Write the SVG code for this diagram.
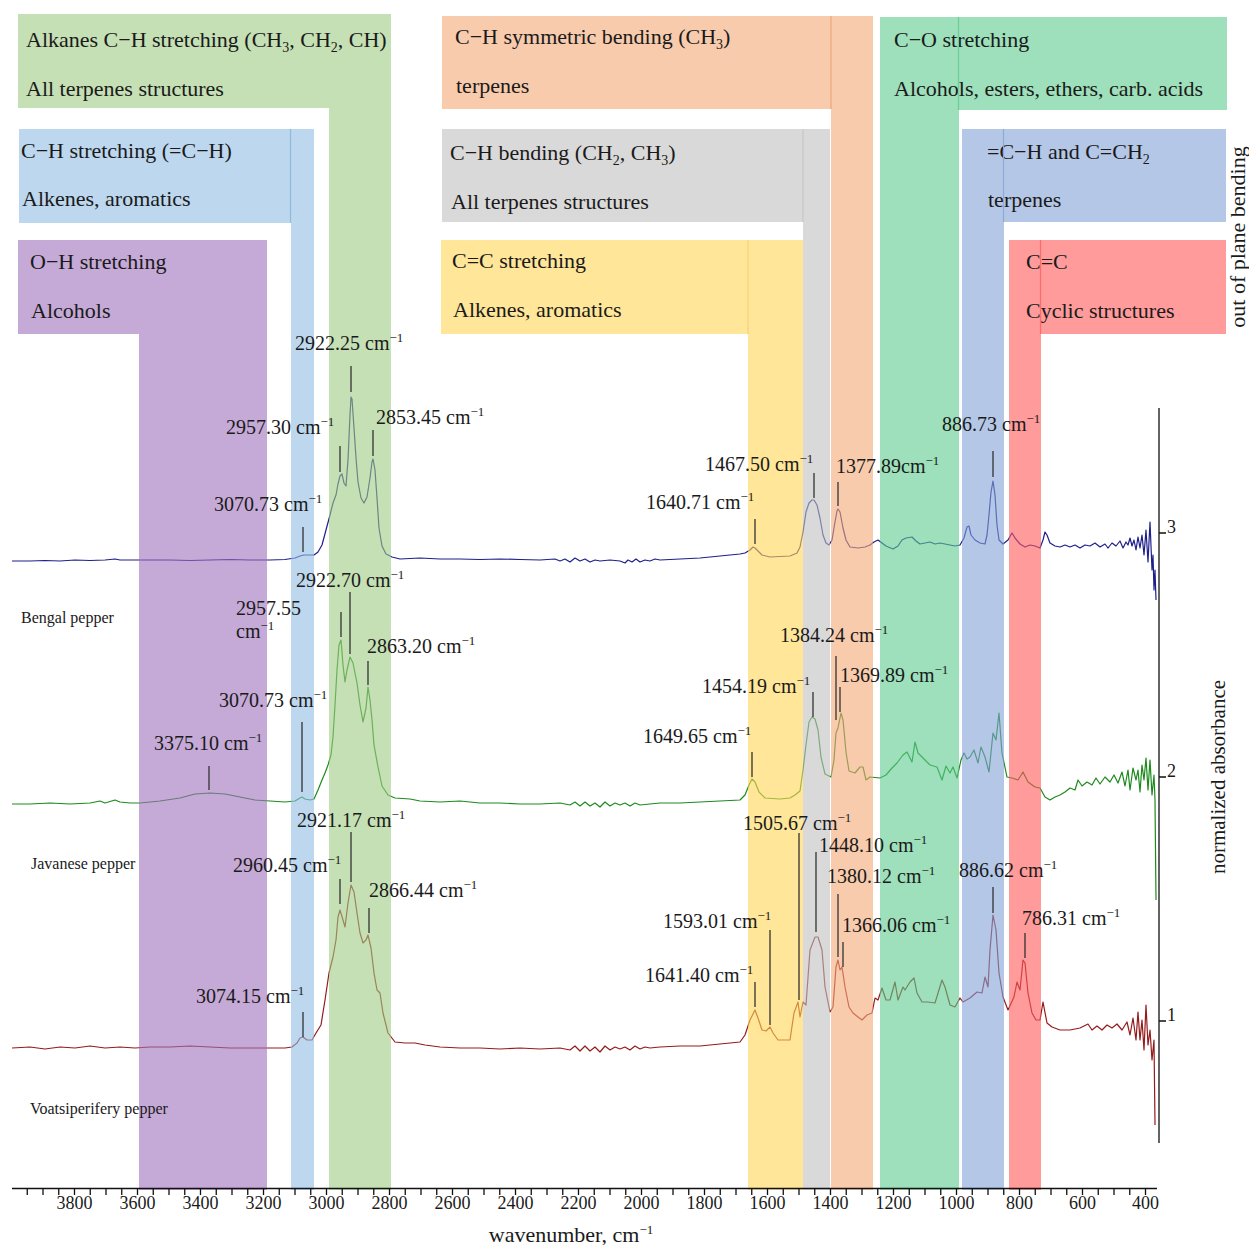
<svg xmlns="http://www.w3.org/2000/svg" width="1249" height="1245" viewBox="0 0 1249 1245">
<style>
text{font-family:"Liberation Serif","DejaVu Serif",serif;fill:#1a1a1a}
.bx{font-size:22px}
.lb{font-size:20px}
.sp{font-size:13px}
.sb{font-size:14px}
.tk{font-size:18px}
.sm{font-size:16px}
.band{opacity:0.6;stroke:none}
.edge{stroke-width:1.2;fill:none}
.mk{stroke:#333;stroke-width:1.3;fill:none}
.spec{fill:none;stroke-width:1.2;stroke-linejoin:round}
.ax{stroke:#111;stroke-width:1.3;fill:none}
</style>
<rect width="1249" height="1245" fill="#fff"/>
<g id="connectors">
<path class="spec" stroke="#1f1f8c" d="M12,561 L30,561 L45,560.5 L60,561 L75,560 L90,560.5 L105,560 L115,559 L120,560 L135,560 L150,560 L170,560 L190,560.5 L210,560 L230,559.5 L250,560 L270,560 L285,559.5 L295,558 L300,556 L304,555 L309,555 L314,555 L318,552 L322,545 L326,530 L330,515 L333,503 L336,495 L338,484 L340,476 L342,474 L344,483 L346,486 L348,460 L350,415 L351,397 L352,399 L354,428 L356,458 L358,482 L361,498 L364,503 L367,497 L370,478 L372,462 L373,459 L375,470 L377,498 L379,528 L382,546 L386,554 L392,557 L400,559 L420,558 L440,559 L460,559 L480,559.5 L500,559 L520,559.5 L540,560 L555,559 L560,561 L565,559 L570,562 L575,558 L580,561 L585,559 L590,562 L595,560 L600,561 L610,560 L620,561 L625,563 L628,560 L632,562 L636,559 L640,562 L645,560 L650,561 L655,559 L660,560 L680,559 L700,558 L720,556 L740,554 L745,553 L750,550 L753,547 L755,548 L758,551 L762,555 L770,557 L790,556 L797,553 L800,547 L803,532 L806,512 L809,503 L812,500 L814,500 L817,505 L820,518 L823,535 L826,543 L829,545 L832,540 L835,522 L837,511 L838,509 L840,512 L843,528 L846,540 L850,547 L858,548 L865,547 L870,545 L874,542 L878,540 L882,543 L886,546 L893,549 L898,546 L902,540 L906,538 L912,537 L916,541 L920,544 L925,543 L930,542 L935,544 L940,543 L945,544 L950,545 L955,546 L960,545 L964,538 L967,527 L969,526 L971,535 L975,540 L980,543 L985,544 L987,535 L989,515 L991,492 L993,481 L995,495 L997,525 L999,540 L1003,544 L1008,540 L1012,533 L1015,538 L1020,544 L1025,547 L1030,545 L1035,546 L1040,548 L1043,540 L1045,532 L1047,535 L1050,543 L1055,546 L1060,547 L1065,545 L1070,547 L1075,545 L1080,548 L1085,545 L1090,546 L1095,543 L1100,547 L1105,544 L1108,548 L1112,543 L1116,546 L1120,541 L1123,548 L1126,542 L1128,545 L1130,538 L1132,546 L1134,540 L1136,550 L1138,537 L1140,548 L1142,535 L1144,555 L1146,530 L1148,562 L1150,522 L1152,570 L1153,555 L1154,590 L1155,570 L1156,600"/>
<path class="spec" stroke="#1e8a1e" d="M12,804 L30,804 L50,803 L70,804 L90,803 L100,801 L105,803 L115,800 L120,802 L130,803 L140,803 L160,801 L180,798 L195,794 L210,793 L225,794 L240,797 L255,800 L270,801 L285,802 L295,801 L300,798 L302,797 L305,799 L310,800 L314,799 L318,790 L322,780 L325,773 L328,765 L331,755 L333,737 L335,705 L337,670 L339,645 L341,640 L343,665 L345,682 L347,670 L350,657 L353,663 L357,683 L360,705 L363,722 L366,708 L368,687 L370,700 L372,720 L374,745 L378,767 L382,786 L388,795 L395,798 L410,799 L420,801 L440,802 L460,801 L480,803 L500,803 L520,804 L540,804 L560,803 L570,805 L575,802 L580,806 L585,802 L590,806 L595,803 L600,807 L605,802 L610,806 L615,803 L620,805 L625,803 L630,806 L635,803 L640,805 L650,804 L660,803 L680,803 L700,802 L720,801 L740,800 L745,795 L749,785 L752,779 L755,782 L759,792 L765,798 L780,799 L790,798 L795,795 L800,791 L803,770 L806,745 L809,722 L812,717 L815,719 L818,730 L821,757 L825,774 L831,777 L834,760 L836,733 L838,728 L840,718 L841,713 L843,720 L846,752 L849,771 L855,773 L860,767 L863,767 L866,780 L870,777 L880,778 L886,775 L892,768 L897,763 L903,755 L907,752 L912,762 L915,742 L918,753 L923,758 L930,765 L937,767 L942,780 L946,766 L950,773 L953,767 L957,778 L961,760 L964,753 L967,759 L970,757 L974,750 L978,763 L981,747 L985,757 L989,772 L993,733 L996,740 L999,713 L1002,753 L1007,777 L1012,778 L1018,780 L1023,772 L1028,782 L1035,787 L1040,788 L1045,797 L1050,800 L1055,797 L1060,795 L1065,792 L1070,788 L1075,790 L1078,780 L1082,786 L1087,782 L1092,785 L1096,778 L1100,784 L1105,777 L1110,782 L1114,775 L1118,783 L1122,772 L1125,786 L1128,770 L1130,790 L1133,768 L1136,780 L1138,770 L1140,792 L1142,765 L1144,780 L1146,758 L1148,790 L1150,760 L1152,795 L1154,775 L1155,800 L1156,900"/>
<path class="spec" stroke="#931c1c" d="M12,1048 L30,1047 L45,1049 L60,1047 L75,1048 L90,1046 L105,1048 L120,1047 L135,1048 L150,1047 L170,1047 L190,1046 L210,1047 L230,1048 L250,1048 L270,1048 L285,1048 L292,1047 L297,1043 L300,1038 L303,1037 L307,1040 L312,1040 L316,1033 L321,1025 L325,1000 L329,973 L333,957 L336,940 L338,917 L340,910 L343,920 L345,927 L348,903 L351,885 L354,892 L357,913 L360,933 L363,943 L366,940 L368,935 L371,948 L374,973 L377,990 L380,993 L383,1013 L388,1033 L395,1042 L405,1043 L415,1043 L425,1045 L440,1047 L460,1048 L480,1048 L500,1049 L520,1048 L540,1049 L560,1048 L570,1050 L575,1046 L580,1051 L585,1046 L590,1051 L595,1047 L600,1052 L605,1046 L610,1050 L615,1047 L620,1049 L625,1047 L630,1050 L635,1046 L640,1049 L645,1047 L650,1048 L660,1047 L680,1046 L700,1046 L720,1044 L740,1042 L745,1035 L750,1020 L755,1010 L758,1018 L762,1030 L766,1031 L770,1027 L773,1033 L778,1040 L790,1040 L794,1013 L798,1002 L800,1017 L803,1002 L806,1005 L810,950 L815,937 L818,937 L822,950 L825,987 L830,1012 L833,1007 L836,967 L838,960 L840,970 L842,967 L845,987 L849,1007 L853,1013 L858,1017 L862,1020 L867,1015 L872,1013 L875,998 L878,1000 L882,988 L886,1000 L890,1000 L895,982 L898,1000 L903,987 L905,990 L910,982 L914,978 L917,993 L922,1002 L928,1002 L935,1003 L942,980 L945,987 L950,1005 L955,1007 L960,998 L963,1002 L970,998 L977,992 L982,993 L985,977 L988,987 L990,950 L993,915 L996,930 L999,973 L1003,997 L1008,1010 L1014,997 L1017,982 L1020,990 L1023,960 L1025,963 L1028,993 L1032,1013 L1036,1020 L1040,1020 L1043,1002 L1047,1023 L1052,1027 L1060,1030 L1070,1030 L1080,1028 L1088,1024 L1092,1030 L1097,1026 L1102,1030 L1107,1025 L1112,1028 L1117,1024 L1122,1030 L1127,1022 L1130,1035 L1133,1018 L1136,1040 L1138,1012 L1140,1040 L1142,1020 L1144,1050 L1146,1005 L1148,1045 L1150,1030 L1152,1060 L1154,1040 L1155,1125"/>
</g>
<g id="band-oh">
<path class="band" fill="#9e70bb" d="M18,240 H267 V1190 H139 V334 H18 Z"/>
<text class="bx" x="30" y="269">O−H stretching</text>
<text class="bx" x="31" y="318">Alcohols</text>
</g>
<g id="band-ch-alkene">
<path class="band" fill="#91bce3" d="M19,129 H314 V1190 H291 V223 H19 Z"/>
<text class="bx" x="21" y="158">C−H stretching (=C−H)</text>
<text class="bx" x="22" y="206">Alkenes, aromatics</text>
<line class="edge" stroke="#8fbbe3" x1="290.5" y1="129" x2="290.5" y2="223"/>
</g>
<g id="band-alkanes">
<path class="band" fill="#9ecb82" d="M18,14 H391 V1190 H329 V108 H18 Z"/>
<text class="bx" x="26" y="47">Alkanes C−H stretching (CH<tspan class="sb" dy="5">3</tspan><tspan dy="-5">, CH</tspan><tspan class="sb" dy="5">2</tspan><tspan dy="-5">, CH)</tspan></text>
<text class="bx" x="26" y="96">All terpenes structures</text>
</g>
<g id="band-ch-sym">
<path class="band" fill="#f3a876" d="M442,16 H873 V1190 H831 V109 H442 Z"/>
<text class="bx" x="455" y="44">C−H symmetric bending (CH<tspan class="sb" dy="5">3</tspan><tspan dy="-5">)</tspan></text>
<text class="bx" x="456" y="93">terpenes</text>
<line class="edge" stroke="#eca77c" x1="831" y1="16" x2="831" y2="109"/>
</g>
<g id="band-ch-bend">
<path class="band" fill="#c0c0c0" d="M442,129 H830 V1190 H803 V222 H442 Z"/>
<text class="bx" x="450" y="160">C−H bending (CH<tspan class="sb" dy="5">2</tspan><tspan dy="-5">, CH</tspan><tspan class="sb" dy="5">3</tspan><tspan dy="-5">)</tspan></text>
<text class="bx" x="451" y="209">All terpenes structures</text>
<line class="edge" stroke="#c6c6c6" x1="803" y1="129" x2="803" y2="222"/>
</g>
<g id="band-cc">
<path class="band" fill="#ffd555" d="M441,240 H803 V1190 H748 V334 H441 Z"/>
<text class="bx" x="452" y="268">C=C stretching</text>
<text class="bx" x="453" y="317">Alkenes, aromatics</text>
<line class="edge" stroke="#f2d17a" x1="748" y1="240" x2="748" y2="334"/>
</g>
<g id="band-co">
<path class="band" fill="#5ccb8e" d="M880,17 H1227 V110 H959 V1190 H880 Z"/>
<text class="bx" x="894" y="47">C−O stretching</text>
<text class="bx" x="894" y="96">Alcohols, esters, ethers, carb. acids</text>
<line class="edge" stroke="#6ccd98" x1="958.5" y1="17" x2="958.5" y2="110"/>
</g>
<g id="band-ch2">
<path class="band" fill="#82a2d7" d="M962,129 H1226 V222 H1004 V1190 H962 Z"/>
<text class="bx" x="987" y="159">=C−H and C=CH<tspan class="sb" dy="5">2</tspan></text>
<text class="bx" x="988" y="207">terpenes</text>
<line class="edge" stroke="#8ea8d8" x1="1003.5" y1="129" x2="1003.5" y2="222"/>
</g>
<g id="band-cyclic">
<path class="band" fill="#ff5858" d="M1009,240 H1226 V334 H1041 V1190 H1009 Z"/>
<text class="bx" x="1026" y="269">C=C</text>
<text class="bx" x="1026" y="318">Cyclic structures</text>
<line class="edge" stroke="#ff6a6a" x1="1040.5" y1="240" x2="1040.5" y2="334"/>
</g>
<g id="peak-markers">
<path class="mk" d="M351,366V392 M340,446V472 M373,430V456 M303,527V552 M755,519V544 M814,473V498 M838,482V506 M993,451V477 M350,592V654 M341,612V637 M368,661V685 M302,722V792 M209,766V790 M752,752V777 M813,692V717 M836,656V720 M840,687V712 M351,832V882 M340,879V904 M369,908V933 M303,1012V1037 M799,833V1000 M816,852V932 M838,894V957 M843,942V967 M770,930V1025 M755,982V1007 M993,887V913 M1025,933V958"/>
</g>
<g id="peak-labels">
<text class="lb" x="295" y="350">2922.25 cm<tspan class="sp" dy="-8">−1</tspan></text>
<text class="lb" x="226" y="434">2957.30 cm<tspan class="sp" dy="-8">−1</tspan></text>
<text class="lb" x="376" y="424">2853.45 cm<tspan class="sp" dy="-8">−1</tspan></text>
<text class="lb" x="214" y="511">3070.73 cm<tspan class="sp" dy="-8">−1</tspan></text>
<text class="lb" x="646" y="509">1640.71 cm<tspan class="sp" dy="-8">−1</tspan></text>
<text class="lb" x="705" y="471">1467.50 cm<tspan class="sp" dy="-8">−1</tspan></text>
<text class="lb" x="836" y="473">1377.89cm<tspan class="sp" dy="-8">−1</tspan></text>
<text class="lb" x="942" y="431">886.73 cm<tspan class="sp" dy="-8">−1</tspan></text>
<text class="lb" x="296" y="587">2922.70 cm<tspan class="sp" dy="-8">−1</tspan></text>
<text class="lb" x="236" y="615">2957.55</text>
<text class="lb" x="236" y="638">cm<tspan class="sp" dy="-8">−1</tspan></text>
<text class="lb" x="367" y="653">2863.20 cm<tspan class="sp" dy="-8">−1</tspan></text>
<text class="lb" x="219" y="707">3070.73 cm<tspan class="sp" dy="-8">−1</tspan></text>
<text class="lb" x="154" y="750">3375.10 cm<tspan class="sp" dy="-8">−1</tspan></text>
<text class="lb" x="643" y="743">1649.65 cm<tspan class="sp" dy="-8">−1</tspan></text>
<text class="lb" x="702" y="693">1454.19 cm<tspan class="sp" dy="-8">−1</tspan></text>
<text class="lb" x="780" y="642">1384.24 cm<tspan class="sp" dy="-8">−1</tspan></text>
<text class="lb" x="840" y="682">1369.89 cm<tspan class="sp" dy="-8">−1</tspan></text>
<text class="lb" x="297" y="827">2921.17 cm<tspan class="sp" dy="-8">−1</tspan></text>
<text class="lb" x="233" y="872">2960.45 cm<tspan class="sp" dy="-8">−1</tspan></text>
<text class="lb" x="369" y="897">2866.44 cm<tspan class="sp" dy="-8">−1</tspan></text>
<text class="lb" x="196" y="1003">3074.15 cm<tspan class="sp" dy="-8">−1</tspan></text>
<text class="lb" x="743" y="830">1505.67 cm<tspan class="sp" dy="-8">−1</tspan></text>
<text class="lb" x="819" y="852">1448.10 cm<tspan class="sp" dy="-8">−1</tspan></text>
<text class="lb" x="827" y="883">1380.12 cm<tspan class="sp" dy="-8">−1</tspan></text>
<text class="lb" x="842" y="932">1366.06 cm<tspan class="sp" dy="-8">−1</tspan></text>
<text class="lb" x="663" y="928">1593.01 cm<tspan class="sp" dy="-8">−1</tspan></text>
<text class="lb" x="645" y="982">1641.40 cm<tspan class="sp" dy="-8">−1</tspan></text>
<text class="lb" x="959" y="877">886.62 cm<tspan class="sp" dy="-8">−1</tspan></text>
<text class="lb" x="1022" y="925">786.31 cm<tspan class="sp" dy="-8">−1</tspan></text>
</g>
<g id="sample-labels">
<text class="sm" x="21" y="623">Bengal pepper</text>
<text class="sm" x="31" y="869">Javanese pepper</text>
<text class="sm" x="30" y="1114">Voatsiperifery pepper</text>
</g>
<g id="x-axis">
<path class="ax" d="M12,1188.5 H1157"/>
<path class="ax" d="M27.25,1188v7 M43,1188v7 M58.75,1188v7 M74.5,1188v7 M90.25,1188v7 M106,1188v7 M121.75,1188v7 M137.5,1188v7 M153.25,1188v7 M169,1188v7 M184.75,1188v7 M200.5,1188v7 M216.25,1188v7 M232,1188v7 M247.75,1188v7 M263.5,1188v7 M279.25,1188v7 M295,1188v7 M310.75,1188v7 M326.5,1188v7 M342.25,1188v7 M358,1188v7 M373.75,1188v7 M389.5,1188v7 M405.25,1188v7 M421,1188v7 M436.75,1188v7 M452.5,1188v7 M468.25,1188v7 M484,1188v7 M499.75,1188v7 M515.5,1188v7 M531.25,1188v7 M547,1188v7 M562.75,1188v7 M578.5,1188v7 M594.25,1188v7 M610,1188v7 M625.75,1188v7 M641.5,1188v7 M657.25,1188v7 M673,1188v7 M688.75,1188v7 M704.5,1188v7 M720.25,1188v7 M736,1188v7 M751.75,1188v7 M767.5,1188v7 M783.25,1188v7 M799,1188v7 M814.75,1188v7 M830.5,1188v7 M846.25,1188v7 M862,1188v7 M877.75,1188v7 M893.5,1188v7 M909.25,1188v7 M925,1188v7 M940.75,1188v7 M956.5,1188v7 M972.25,1188v7 M988,1188v7 M1003.75,1188v7 M1019.5,1188v7 M1035.25,1188v7 M1051,1188v7 M1066.75,1188v7 M1082.5,1188v7 M1098.25,1188v7 M1114,1188v7 M1129.75,1188v7 M1145.5,1188v7"/>
<g class="tk" text-anchor="middle">
<text class="tk" x="74.5" y="1209">3800</text>
<text class="tk" x="137.5" y="1209">3600</text>
<text class="tk" x="200.5" y="1209">3400</text>
<text class="tk" x="263.5" y="1209">3200</text>
<text class="tk" x="326.5" y="1209">3000</text>
<text class="tk" x="389.5" y="1209">2800</text>
<text class="tk" x="452.5" y="1209">2600</text>
<text class="tk" x="515.5" y="1209">2400</text>
<text class="tk" x="578.5" y="1209">2200</text>
<text class="tk" x="641.5" y="1209">2000</text>
<text class="tk" x="704.5" y="1209">1800</text>
<text class="tk" x="767.5" y="1209">1600</text>
<text class="tk" x="830.5" y="1209">1400</text>
<text class="tk" x="893.5" y="1209">1200</text>
<text class="tk" x="956.5" y="1209">1000</text>
<text class="tk" x="1019.5" y="1209">800</text>
<text class="tk" x="1082.5" y="1209">600</text>
<text class="tk" x="1145.5" y="1209">400</text>
</g>
<text class="bx" x="571" y="1242" text-anchor="middle">wavenumber, cm<tspan class="sp" dy="-8">−1</tspan></text>
</g>
<g id="y-axis">
<path class="ax" d="M1159,408 V1143 M1159,533 h7 M1159,777 h7 M1159,1021 h7"/>
<text class="tk" x="1167" y="533">3</text>
<text class="tk" x="1167" y="777">2</text>
<text class="tk" x="1167" y="1021">1</text>
<text class="bx" font-size="21" transform="translate(1225,777) rotate(-90)" text-anchor="middle" style="font-size:21px">normalized absorbance</text>
<text class="bx" transform="translate(1245,237) rotate(-90)" text-anchor="middle">out of plane bending</text>
</g>
</svg>
